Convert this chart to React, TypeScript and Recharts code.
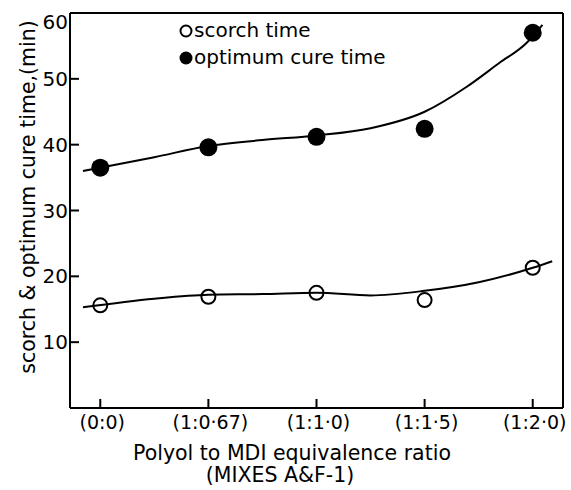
import React from 'react';
import { ComposedChart, Line, Scatter, XAxis, YAxis, ReferenceLine, Legend, Label } from 'recharts';

const categories = ['(0:0)', '(1:0·67)', '(1:1·0)', '(1:1·5)', '(1:2·0)'];
const categoryIndex = [0, 1, 2, 3, 4];
const scorchTime = [15.6, 16.9, 17.5, 16.4, 21.3];
const cureTime = [36.5, 39.6, 41.2, 42.4, 57.0];
const yTicks = [10, 20, 30, 40, 50, 60];

// fitted curves
const scorchFitX = [-0.16, 0.5, 1, 1.5, 2, 2.5, 3, 3.5, 4, 4.18];
const scorchFitY = [15.3, 16.6, 17.2, 17.3, 17.5, 17.1, 17.8, 19.1, 21.3, 22.3];
const cureFitX = [-0.16, 0.5, 1, 1.5, 2, 2.5, 3, 3.39, 3.69, 3.94, 4.09];
const cureFitY = [36.0, 38.1, 39.8, 40.7, 41.4, 42.5, 45.0, 48.8, 52.4, 55.4, 58.2];

const FONT = 'DejaVu Sans';

const scorchPts = categoryIndex.map((x, i) => ({ x, y: scorchTime[i] }));
const curePts = categoryIndex.map((x, i) => ({ x, y: cureTime[i] }));
const scorchFit = scorchFitX.map((x, i) => ({ x, y: scorchFitY[i] }));
const cureFit = cureFitX.map((x, i) => ({ x, y: cureFitY[i] }));

const OpenDot = (p: any) => (
  <circle cx={p.cx} cy={p.cy} r={7} fill="none" stroke="#000" strokeWidth={2} />
);
const FilledDot = (p: any) => <circle cx={p.cx} cy={p.cy} r={9} fill="#000" />;

const YTick = (p: any) => {
  const v = p.payload.value;
  return (
    <g>
      <path d={`M${p.x},${p.y}h9`} stroke="#000" strokeWidth={2} fill="none" />
      <text
        x={p.x - 2}
        y={p.y + (v === 60 ? 9 : 0)}
        textAnchor="end"
        dominantBaseline="central"
        fontFamily={FONT}
        fontSize={20}
        fill="#000"
      >
        {v}
      </text>
    </g>
  );
};

const XTick = (p: any) => (
  <g>
    <path d={`M${p.x},${p.y}v-9`} stroke="#000" strokeWidth={2} fill="none" />
    <text
      x={p.x + 2}
      y={p.y + 14}
      textAnchor="middle"
      dominantBaseline="central"
      fontFamily={FONT}
      fontSize={19}
      fill="#000"
    >
      {categories[p.payload.value]}
    </text>
  </g>
);

const LegendBox = () => (
  <div style={{ fontFamily: FONT, fontSize: 20, color: '#000', lineHeight: '27px' }}>
    <div style={{ display: 'flex', alignItems: 'center', height: 27 }}>
      <svg width={14} height={14} style={{ marginRight: 1 }}>
        <circle cx={7} cy={7} r={5.5} fill="none" stroke="#000" strokeWidth={2} />
      </svg>
      <span>scorch time</span>
    </div>
    <div style={{ display: 'flex', alignItems: 'center', height: 27 }}>
      <svg width={14} height={14} style={{ marginRight: 1 }}>
        <circle cx={7} cy={7} r={6.5} fill="#000" />
      </svg>
      <span>optimum cure time</span>
    </div>
  </div>
);

const XTitle = () => (
  <g fontFamily={FONT} fontSize={20.5} fill="#000">
    <text x={292} y={453} textAnchor="middle" dominantBaseline="central">
      Polyol to MDI equivalence ratio
    </text>
    <text x={280} y={475} textAnchor="middle" dominantBaseline="central">
      (MIXES A&amp;F-1)
    </text>
  </g>
);

const YTitle = () => (
  <text
    x={28}
    y={197}
    transform="rotate(-90 28 197)"
    textAnchor="middle"
    dominantBaseline="central"
    fontFamily={FONT}
    fontSize={20.5}
    fill="#000"
  >
    scorch &amp; optimum cure time,(min)
  </text>
);

export default function App() {
  return (
    <div style={{ position: 'absolute', left: 0, top: 0, width: 571, height: 490, background: '#fff' }}>
      <ComposedChart width={571} height={490} margin={{ top: 13, right: 8, bottom: 0, left: 0 }}>
        <XAxis
          type="number"
          dataKey="x"
          domain={[-0.28, 4.28]}
          ticks={categoryIndex}
          interval={0}
          allowDataOverflow
          height={82}
          tickLine={false}
          tickSize={0}
          tickMargin={0}
          stroke="#000"
          strokeWidth={2}
          tick={XTick}
        >
          <Label content={XTitle} />
        </XAxis>
        <YAxis
          type="number"
          dataKey="y"
          domain={[0, 60]}
          ticks={yTicks}
          interval={0}
          allowDataOverflow
          width={70}
          tickLine={false}
          tickSize={0}
          tickMargin={0}
          stroke="#000"
          strokeWidth={2}
          tick={YTick}
        >
          <Label content={YTitle} />
        </YAxis>
        <ReferenceLine y={60} stroke="#000" strokeWidth={2} />
        <ReferenceLine x={4.28} stroke="#000" strokeWidth={2} />
        <Line data={cureFit} dataKey="y" type="monotone" stroke="#000" strokeWidth={2} dot={false} isAnimationActive={false} />
        <Line data={scorchFit} dataKey="y" type="monotone" stroke="#000" strokeWidth={2} dot={false} isAnimationActive={false} />
        <Scatter data={curePts} dataKey="y" shape={FilledDot} isAnimationActive={false} />
        <Scatter data={scorchPts} dataKey="y" shape={OpenDot} isAnimationActive={false} />
        <Legend
          layout="vertical"
          align="center"
          verticalAlign="middle"
          content={LegendBox}
          wrapperStyle={{ left: 179, top: 17, width: 260, right: 'auto', bottom: 'auto' }}
        />
      </ComposedChart>
    </div>
  );
}
